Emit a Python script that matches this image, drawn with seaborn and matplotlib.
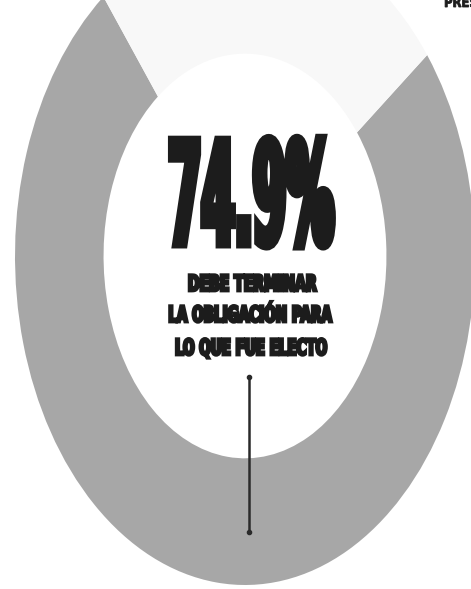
import matplotlib
matplotlib.use("Agg")
import matplotlib.pyplot as plt
import seaborn as sns
from matplotlib import patheffects, font_manager
from matplotlib.transforms import Affine2D

# data
segments = ["Debe terminar", "Otra respuesta"]
shares = [74.9, 25.1]
seg_colors = ["#a7a7a7", "#f8f8f8"]
headline = "74.9%"
caption = ["DEBE TERMINAR", "LA OBLIGACIÓN PARA", "LO QUE FUE ELECTO"]
corner_label = "PRESIDENTE"

W, H = 471, 589
INK = "#1c1c1c"


class Squeeze(patheffects.AbstractPathEffect):
    """squash each text line to a pixel width and stretch it upward (poster type)"""

    def __init__(self, width_px, sy=1.0, stroke=0.0):
        super().__init__()
        self.width_px = width_px
        self.sy = sy
        self.stroke = stroke

    def draw_path(self, renderer, gc, tpath, affine, rgbFace=None):
        ext = tpath.get_extents()
        cur = ext.width * abs(affine.get_matrix()[0, 0])
        target = self.width_px - renderer.points_to_pixels(self.stroke)
        k = target / cur if cur > 0 else 1.0
        mid = (ext.x0 + ext.x1) / 2
        sq = Affine2D().translate(-mid, 0).scale(k, self.sy).translate(mid, 0)
        gc0 = renderer.new_gc()
        gc0.copy_properties(gc)
        if self.stroke:
            gc0.set_linewidth(self.stroke)
            gc0.set_foreground(rgbFace)
            gc0.set_joinstyle("miter")
        renderer.draw_path(gc0, tpath, sq + affine, rgbFace)
        gc0.restore()


sns.set_theme(style="white")
installed = {f.name for f in font_manager.fontManager.ttflist}
face = "Liberation Sans Narrow" if "Liberation Sans Narrow" in installed else "DejaVu Sans"
plt.rcParams["font.family"] = [face, "DejaVu Sans"]

fig = plt.figure(figsize=(W / 100, H / 100), dpi=100)
fig.patch.set_facecolor("white")

# ring: centre at (245, 256) px, radii 230 x 329 px
cx, cy, rx, ry = 245, 256, 230, 329
ax = fig.add_axes([(cx - rx) / W, (H - cy - ry) / H, 2 * rx / W, 2 * ry / H])
ring_w = 0.385
ax.pie(shares, colors=seg_colors, startangle=128, counterclock=True,
       radius=1, wedgeprops=dict(width=ring_w, edgecolor="none"))
ax.set_aspect("auto")
ax.set_xlim(-1, 1)
ax.set_ylim(-1, 1)
ax.axis("off")

# leader line from the caption down into the grey ring
lx = (249 - cx) / rx
ly = [(cy - 377) / ry, -(1 - ring_w * 0.42)]
ax.plot([lx, lx], ly, color="#2a2a2a", lw=1.8, solid_capstyle="butt")
ax.plot([lx, lx], ly, ls="none", marker="o", ms=3, color="#2a2a2a")


def fx(px):
    return px / W


def fy(py):
    return 1 - py / H


# headline: cap height ~111 px, drawn from a smaller nominal size stretched up
fig.text(fx(250), fy(245), headline, ha="center", va="baseline",
         fontsize=78, fontweight="bold", color=INK,
         path_effects=[Squeeze(168, sy=1.34, stroke=5.0)])

cap_pos = [(252, 291, 130), (250, 322, 165), (251, 355, 153)]
for line, (x, y, w) in zip(caption, cap_pos):
    fig.text(fx(x), fy(y), line, ha="center", va="baseline",
             fontsize=14, fontweight="bold", color=INK,
             path_effects=[Squeeze(w, sy=1.15, stroke=2.0)])

fig.text(fx(436), fy(7), corner_label, ha="left", va="baseline",
         fontsize=10, fontweight="bold", color=INK,
         path_effects=[Squeeze(80, stroke=0.6)])

fig.savefig("out.png", dpi=100, facecolor="white")
